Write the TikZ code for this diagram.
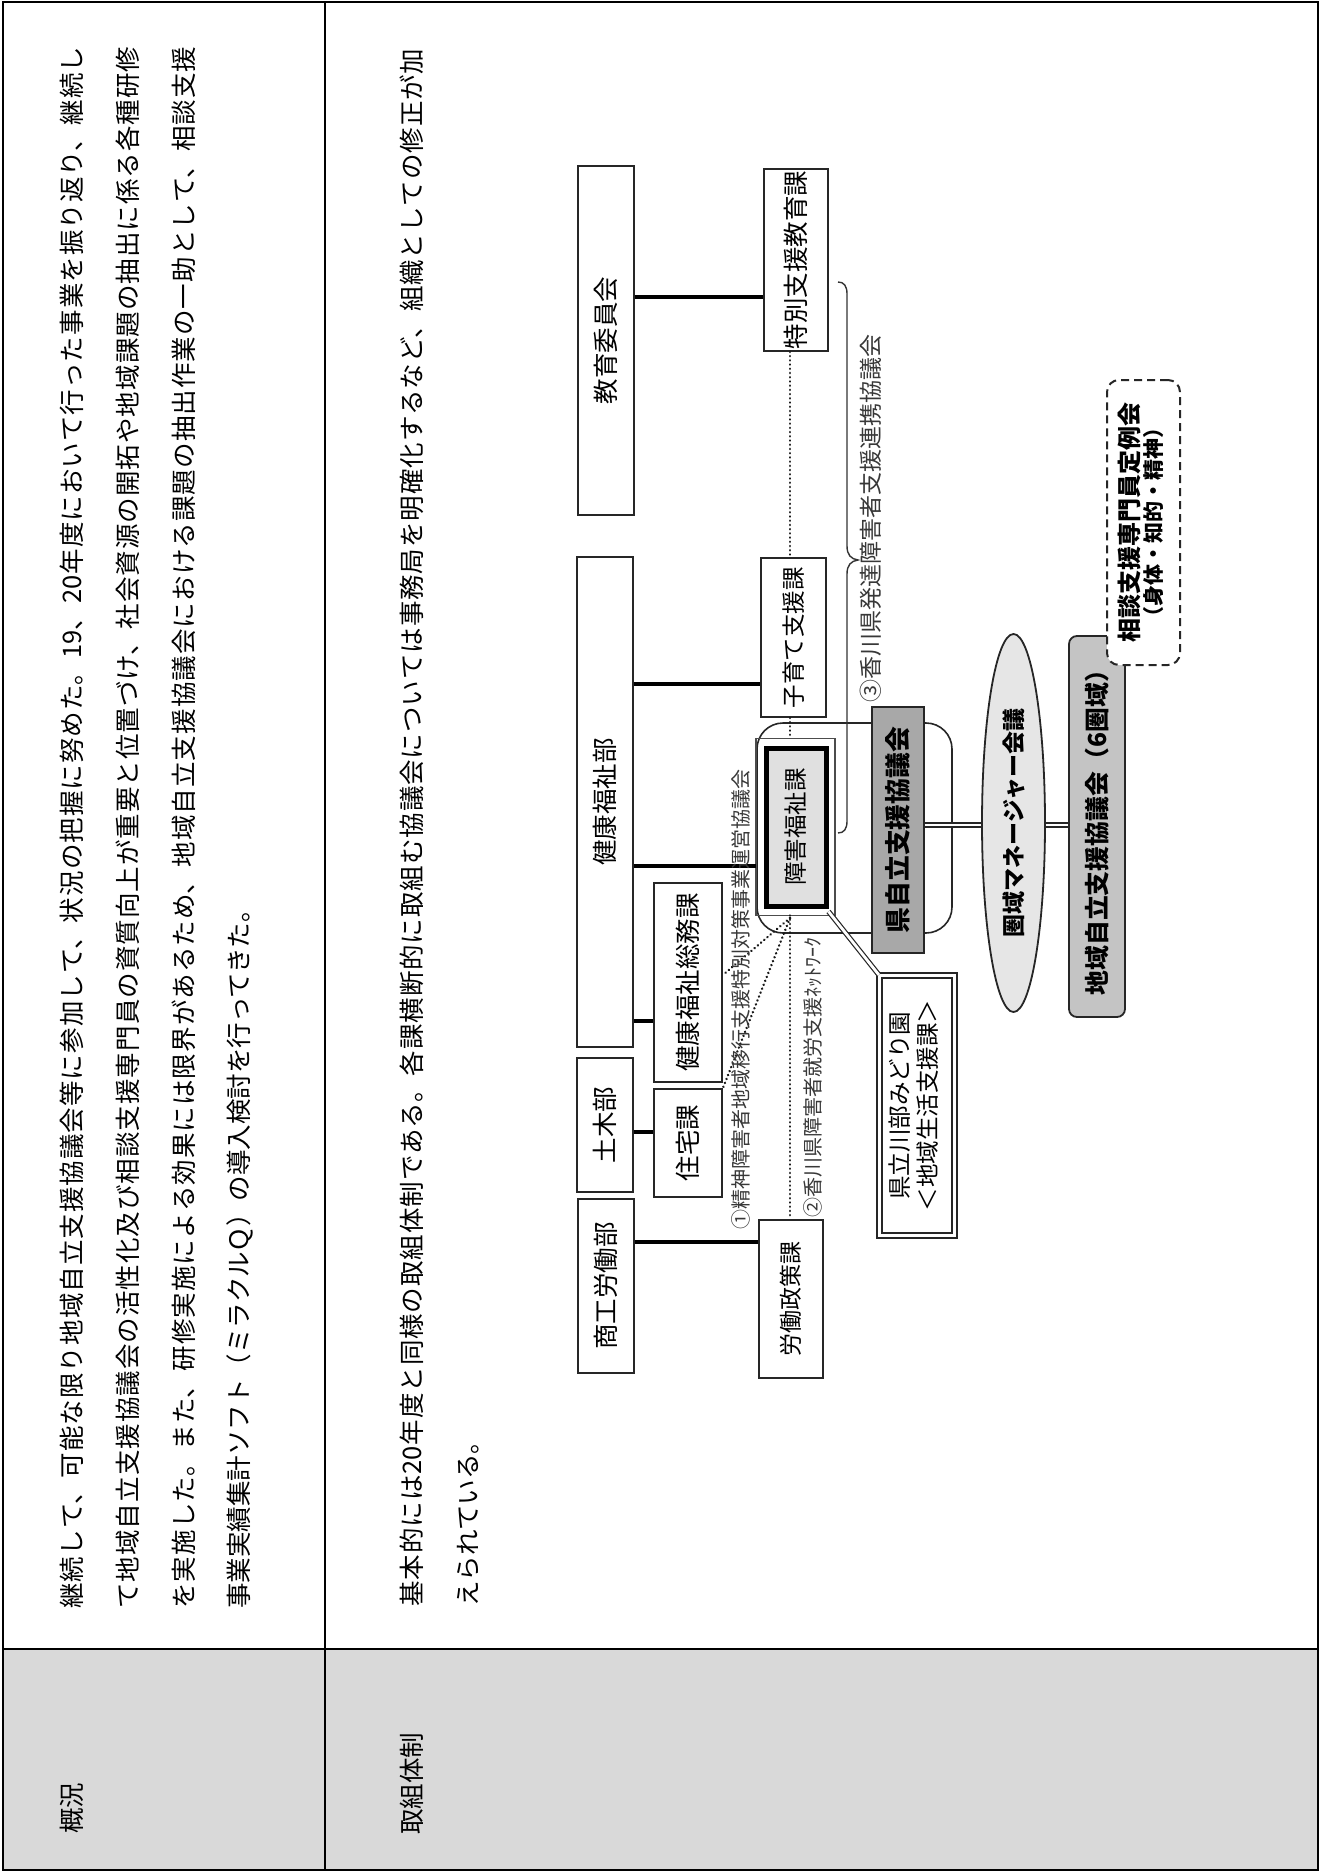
\documentclass[tikz,border=0pt]{standalone}
\usepackage{fontspec}
\setmainfont{Noto Sans CJK JP}
\usepackage{graphicx}
\usetikzlibrary{shapes.geometric,calc}
\XeTeXlinebreaklocale "ja"
\XeTeXlinebreakskip=0pt plus 2pt
\newcommand{\jpline}[2]{\parbox{#1}{\hbadness=10000\parfillskip=0pt\relax #2}}
\newcommand{\rt}[1]{\rotatebox{90}{#1}}
\definecolor{hdrgray}{HTML}{D9D9D9}
\definecolor{kengray}{HTML}{A8A8A8}
\definecolor{chiikigray}{HTML}{C4C4C4}
\definecolor{ellgray}{HTML}{E6E6E6}
\definecolor{shogaigray}{HTML}{E0E0E0}
\tikzset{
  ptext/.style={rotate=90, anchor=west, inner sep=0pt, font=\fontsize{12.75pt}{15pt}\selectfont},
  box/.style={draw=black!85, line width=0.9pt, fill=white, inner sep=0pt, font=\fontsize{12.75pt}{15pt}\selectfont},
  conn/.style={line width=2.2pt},
  dots/.style={line width=1.35pt, line cap=round, dash pattern=on 0.01pt off 2.1pt, black!90},
  dbl/.style={draw=black!85, double=white, double distance=1.4pt, line width=0.6pt},
  lbl/.style={rotate=90, anchor=west, inner sep=0pt, text=black!78},
}
\begin{document}
\begin{tikzpicture}[x=0.5pt,y=-0.5pt]
\useasboundingbox (0,0) rectangle (1320,1872);
% ---------- table ----------
\fill[hdrgray] (3,1649) rectangle (1318,1870);
\draw[line width=0.8pt] (3,2) rectangle (1318,1870);
\draw[line width=0.8pt] (325,2) -- (325,1870);
\draw[line width=0.8pt] (3,1649) -- (1318,1649);
\node[ptext] (hd1) at (72,1834) {概況};
\node[ptext] (hd2) at (412,1835) {取組体制};
% row 1 text
\node[ptext] (p1) at (72,1609) {\jpline{781pt}{継続して、可能な限り地域自立支援協議会等に参加して、状況の把握に努めた。19、20年度において行った事業を振り返り、継続し}};
\node[ptext] (p2) at (128,1609) {\jpline{781pt}{て地域自立支援協議会の活性化及び相談支援専門員の資質向上が重要と位置づけ、社会資源の開拓や地域課題の抽出に係る各種研修}};
\node[ptext] (p3) at (184,1609) {\jpline{781pt}{を実施した。また、研修実施による効果には限界があるため、地域自立支援協議会における課題の抽出作業の一助として、相談支援}};
\node[ptext] (p4) at (240,1609) {事業実績集計ソフト（ミラクルＱ）の導入検討を行ってきた。};
% row 2 text
\node[ptext] (q1) at (412,1607) {\jpline{779pt}{基本的には20年度と同様の取組体制である。各課横断的に取組む協議会については事務局を明確化するなど、組織としての修正が加}};
\node[ptext] (q2) at (468,1607) {えられている。};
% ---------- diagram ----------
\coordinate (h1) at (0,297);
\coordinate (h2) at (0,684);
\coordinate (h3) at (0,866);
\coordinate (h4) at (0,1021);
\coordinate (h5) at (0,1132);
\coordinate (h6) at (0,1242);
\coordinate (h7) at (0,825);
\coordinate (h8) at (0,975);
\coordinate (vx) at (790,0);
\coordinate (conv) at (790,918);
% rounded enclosure behind
\draw[line width=0.8pt, black!85, rounded corners=13pt] (757,723) rectangle (952,933);
% boxes
\node[box, minimum width=28pt, minimum height=174.5pt] (kyoiku) at (606,340.5) {\rt{教育委員会}};
\node[box, minimum width=32pt, minimum height=91pt] (tokubetsu) at (796,260) {\rt{特別支援教育課}};
\node[box, minimum width=28pt, minimum height=245pt] (kenkou) at (605,802) {\rt{健康福祉部}};
\node[box, minimum width=32.5pt, minimum height=79.5pt, font=\fontsize{11.75pt}{14pt}\selectfont] (kosodate) at (793.5,637.5) {\rt{子育て支援課}};
\node[box, minimum width=34pt, minimum height=99.5pt] (soumu) at (688,982.5) {\rt{健康福祉総務課}};
\node[box, minimum width=34pt, minimum height=54pt] (jutaku) at (688,1143) {\rt{住宅課}};
\node[box, minimum width=28pt, minimum height=67pt] (doboku) at (605,1125) {\rt{土木部}};
\node[box, minimum width=28pt, minimum height=87pt] (shoko) at (606,1286) {\rt{商工労働部}};
\node[box, minimum width=32pt, minimum height=79pt, font=\fontsize{11.5pt}{14pt}\selectfont] (roudou) at (791,1299) {\rt{労働政策課}};
% 障害福祉課 (thick frame)
\node[draw=black, line width=2.5pt, fill=shogaigray, inner sep=0pt, minimum width=30pt, minimum height=79pt, font=\fontsize{11.75pt}{14pt}\selectfont] (shogai) at (796,827) {\rt{障害福祉課}};
\draw[line width=0.6pt, black!70] ([shift={(-3.75pt,-3.5pt)}]shogai.south west) rectangle ([shift={(3.25pt,3.5pt)}]shogai.north east);
% 県自立支援協議会
\node[box, fill=kengray, minimum width=26pt, minimum height=123pt, font=\bfseries\fontsize{12.9pt}{15pt}\selectfont] (kenjiritsu) at (898,830) {\rt{県自立支援協議会}};
% 圏域マネージャー会議
\node[ellipse, draw=black!85, line width=0.9pt, fill=ellgray, inner sep=0pt, minimum width=31.5pt, minimum height=189pt, font=\bfseries\fontsize{11.5pt}{14pt}\selectfont] (manager) at (1013.5,823) {\rt{圏域マネージャー会議}};
% 地域自立支援協議会
\node[box, fill=chiikigray, rounded corners=4pt, minimum width=28pt, minimum height=190.5pt, font=\bfseries\fontsize{12.4pt}{15pt}\selectfont] (chiiki) at (1097,826.5) {\rt{地域自立支援協議会（6圏域）}};
% 相談支援専門員定例会
\node[draw=black!85, line width=1pt, dash pattern=on 4pt off 2.5pt, fill=white, rounded corners=6pt, inner sep=0pt, minimum width=36.5pt, minimum height=142.5pt] (soudan) at (1143.5,522.5)
  {\rt{\bfseries\begin{tabular}{@{}c@{}}\fontsize{12pt}{15pt}\selectfont 相談支援専門員定例会\\[-1pt]\fontsize{10.5pt}{13pt}\selectfont （身体・知的・精神）\end{tabular}}};
% 県立川部みどり園
\node[draw=black!85, double=white, double distance=1.8pt, line width=0.7pt, fill=white, inner sep=0pt, minimum width=37.5pt, minimum height=130pt, font=\fontsize{11.75pt}{14pt}\selectfont] (midori) at (917,1105.5)
  {\rt{\begin{tabular}{@{}c@{}}県立川部みどり園\\＜地域生活支援課＞\end{tabular}}};
% ---------- connectors ----------
\draw[conn] (kyoiku.east |- h1) -- (tokubetsu.west |- h1);
\draw[conn] (kenkou.east |- h2) -- (kosodate.west |- h2);
\draw[conn] (kenkou.east |- h3) -- ([xshift=-3.75pt]shogai.west |- h3);
\draw[conn] (kenkou.east |- h4) -- (soumu.west |- h4);
\draw[conn] (doboku.east |- h5) -- (jutaku.west |- h5);
\draw[conn] (shoko.east |- h6) -- (roudou.west |- h6);
% dotted
\draw[dots] (tokubetsu.south -| vx) -- (kosodate.north -| vx);
\draw[dots] (kosodate.south -| vx) -- ([yshift=3.5pt]shogai.north -| vx);
\draw[dots] ([yshift=-3.5pt]shogai.south -| vx) -- (roudou.north -| vx);
\draw[dots] (conv) -- (soumu.east |- h8);
\draw[dots] (conv) -- (jutaku.north east);
% double lines
\draw[dbl] ([shift={(0pt,-1.5pt)}]shogai.south east) -- (midori.north west);
\draw[dbl] (kenjiritsu.east |- h7) -- (manager.west |- h7);
\draw[dbl] (manager.east |- h7) -- (chiiki.west |- h7);
% brace for (3)
\draw[line width=0.7pt, black!80] (838,282) .. controls (844,282) and (847,286) .. (847,294) -- (847,546) .. controls (847,555) and (851,559) .. (858,560) .. controls (851,561) and (847,565) .. (847,574) -- (847,821) .. controls (847,829) and (844,833) .. (838,833);
% labels
\node[lbl, font=\fontsize{10pt}{12pt}\selectfont] (lab1) at (741,1230) {①精神障害者地域移行支援特別対策事業運営協議会};
\node[lbl, font=\fontsize{10pt}{12pt}\selectfont] (lab2) at (813,1218) {②香川県障害者就労支援ﾈｯﾄﾜｰｸ};
\node[lbl, font=\fontsize{11.5pt}{14pt}\selectfont] (lab3) at (871,703) {③香川県発達障害者支援連携協議会};
\end{tikzpicture}
\end{document}
